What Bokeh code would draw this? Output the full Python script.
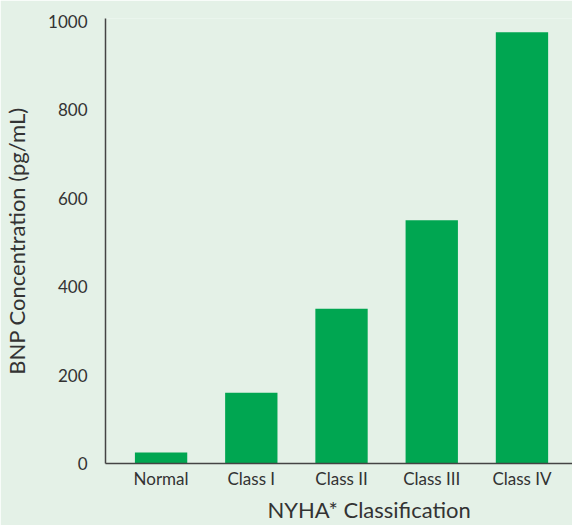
from bokeh.plotting import figure
from bokeh.models import Range1d, FixedTicker, Title
from bokeh.embed import file_html
from bokeh.resources import INLINE

categories = ["Normal", "Class I", "Class II", "Class III", "Class IV"]
bnp_values = [25, 160, 350, 550, 975]
y_ticks = [0, 200, 400, 600, 800, 1000]

BG = "#E4F1E7"
BAR = "#00A651"
TXT = "#333333"
FONT = "Lato"

xs = list(range(len(categories)))

p = figure(width=572, height=525, output_backend="svg", toolbar_location=None,
           x_range=Range1d(-0.616, 4.56), y_range=Range1d(0, 1006),
           background_fill_color=BG, border_fill_color=BG,
           min_border_left=97, min_border_right=0, min_border_top=18, min_border_bottom=0)
p.outline_line_color = None
p.grid.grid_line_color = None

p.vbar(x=xs, top=bnp_values, width=0.58, bottom=0, color=BAR, line_color=None)

p.xaxis.ticker = FixedTicker(ticks=xs)
p.xaxis.major_label_overrides = {i: c for i, c in enumerate(categories)}
p.yaxis.ticker = FixedTicker(ticks=y_ticks)

for ax in (p.xaxis[0], p.yaxis[0]):
    ax.axis_line_color = "#444444"
    ax.axis_line_width = 1.5
    ax.major_tick_line_color = None
    ax.minor_tick_line_color = None
    ax.major_label_text_font = FONT
    ax.major_label_text_font_size = "17px"
    ax.major_label_text_color = TXT

p.xaxis.major_label_standoff = -2
p.yaxis.major_label_standoff = 12
p.yaxis.axis_label = "BNP Concentration (pg/mL)"
p.yaxis.axis_label_text_font = FONT
p.yaxis.axis_label_text_font_style = "normal"
p.yaxis.axis_label_text_font_size = "22px"
p.yaxis.axis_label_text_color = TXT
p.yaxis.axis_label_standoff = 15

p.xaxis.axis_label = None

xtitle = Title(text="NYHA* Classification", align="left", offset=162,
               text_font=FONT, text_font_size="22px", text_font_style="normal",
               text_color=TXT, standoff=5, vertical_align="bottom")
p.add_layout(xtitle, "below")

open("out.html", "w").write(file_html(p, INLINE))
